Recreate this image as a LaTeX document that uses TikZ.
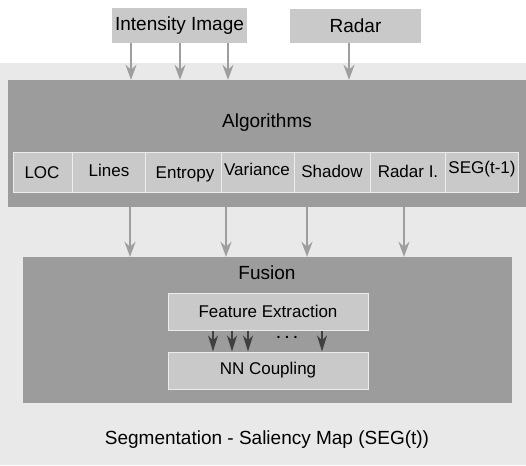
\documentclass[tikz,border=0pt]{standalone}
\usepackage{fontspec}
\setmainfont{Liberation Sans}
\usetikzlibrary{arrows.meta}
\definecolor{bgc}{gray}{0.915}
\definecolor{boxdark}{gray}{0.61}
\definecolor{boxlight}{gray}{0.79}
\definecolor{arrgray}{gray}{0.62}
\definecolor{arrdark}{gray}{0.25}
\begin{document}
\begin{tikzpicture}[x=1pt,y=-1pt,
  inbox/.style={fill=boxlight, draw=none, inner sep=0pt, font=\fontsize{19}{22}\selectfont},
  bigbox/.style={fill=boxdark, draw=none, inner sep=0pt},
  cellbox/.style={fill=boxlight, draw=gray!15, line width=1pt, inner sep=0pt, minimum height=40pt},
  celltext/.style={font=\fontsize{17}{20}\selectfont, inner sep=0pt},
  title/.style={font=\fontsize{19}{22}\selectfont, inner sep=0pt},
  subbox/.style={fill=boxlight, draw=gray!15, line width=1pt, inner sep=0pt, minimum width=200pt, minimum height=37pt, font=\fontsize{17}{20}\selectfont},
  garrow/.style={draw=arrgray, line width=2pt, arrows={-Stealth[length=15pt, width=11pt, inset=5pt]}},
  darrow/.style={draw=arrdark, line width=1.5pt, arrows={-Stealth[length=16pt, width=10pt, inset=5pt]}}
]
\useasboundingbox (0,0) rectangle (526,465);
\fill[bgc] (0,63) rectangle (526,465);

% inputs
\node[inbox, minimum width=135pt, minimum height=35pt] (int) at (179.5,25.5) {Intensity Image};
\node[inbox, minimum width=131pt, minimum height=34pt] (rad) at (355.5,26) {Radar};

% algorithms
\node[bigbox, minimum width=518pt, minimum height=127pt] (alg) at (267,143.5) {};
\node[title] (algt) at (267,123) {Algorithms};

\node[cellbox, minimum width=59pt] (c1) at (42.5,172) {};
\node[cellbox, minimum width=73pt] (c2) at (108.5,172) {};
\node[cellbox, minimum width=76pt] (c3) at (183,172) {};
\node[cellbox, minimum width=73pt] (c4) at (257.5,172) {};
\node[cellbox, minimum width=76pt] (c5) at (332,172) {};
\node[cellbox, minimum width=75pt] (c6) at (407.5,172) {};
\node[cellbox, minimum width=73pt] (c7) at (481.5,172) {};

\node[celltext] (t1) at (42,173) {LOC};
\node[celltext] (t2) at (109,170) {Lines};
\node[celltext] (t3) at (185,174) {Entropy};
\node[celltext] (t4) at (257,169) {Variance};
\node[celltext] (t5) at (332,171) {Shadow};
\node[celltext] (t6) at (408,171) {Radar I.};
\node[celltext] (t7) at (482,169) {SEG(t-1)};

% fusion
\node[bigbox, minimum width=489pt, minimum height=146pt] (fus) at (267.5,330) {};
\node[title] (fust) at (267,273) {Fusion};
\node[subbox] (fe) at (268,311.5) {Feature Extraction};
\node[subbox] (nn) at (268,370.5) {NN Coupling};
\node[inner sep=0pt, font=\bfseries\fontsize{14}{14}\selectfont] (dots) at (287,337) {.\,\,.\,\,.};

% output
\node[title] (out) at (267,440) {Segmentation - Saliency Map (SEG(t))};

% x positions
\coordinate (xa) at (131,0);
\coordinate (xb) at (180,0);
\coordinate (xc) at (228,0);
\coordinate (xd) at (349,0);
\coordinate (ya) at (130,0);
\coordinate (yb) at (226,0);
\coordinate (yc) at (307,0);
\coordinate (yd) at (404,0);
\coordinate (za) at (213,0);
\coordinate (zb) at (232,0);
\coordinate (zc) at (248,0);
\coordinate (zd) at (322,0);

\draw[garrow] (int.south -| xa) -- (alg.north -| xa);
\draw[garrow] (int.south -| xb) -- (alg.north -| xb);
\draw[garrow] (int.south -| xc) -- (alg.north -| xc);
\draw[garrow] (rad.south -| xd) -- (alg.north -| xd);

\draw[garrow] (alg.south -| ya) -- (fus.north -| ya);
\draw[garrow] (alg.south -| yb) -- (fus.north -| yb);
\draw[garrow] (alg.south -| yc) -- (fus.north -| yc);
\draw[garrow] (alg.south -| yd) -- (fus.north -| yd);

\draw[darrow] (fe.south -| za) -- (nn.north -| za);
\draw[darrow] (fe.south -| zb) -- (nn.north -| zb);
\draw[darrow] (fe.south -| zc) -- (nn.north -| zc);
\draw[darrow] (fe.south -| zd) -- (nn.north -| zd);
\end{tikzpicture}
\end{document}
